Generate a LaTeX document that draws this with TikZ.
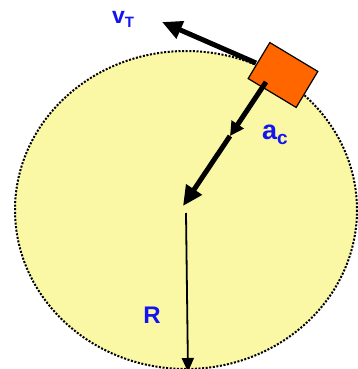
\documentclass[tikz,border=0pt]{standalone}
\usepackage{fontspec}
\setmainfont{Liberation Sans}
\usetikzlibrary{arrows.meta}
\definecolor{discfill}{RGB}{250,248,165}
\definecolor{blockfill}{RGB}{255,102,0}
\definecolor{labelblue}{RGB}{20,20,240}
\tikzset{
  lbl/.style={text=labelblue, font=\bfseries, inner sep=0pt},
  thickarrow/.style={line width=5pt, -{Triangle[length=20pt,width=18pt]}},
  midarrow/.style={line width=5pt, -{Triangle[length=14pt,width=14pt]}},
  thinarrow/.style={line width=1.8pt, -{Triangle[length=14pt,width=12pt]}},
}
\begin{document}
\begin{tikzpicture}[x=1pt,y=-1pt]
\useasboundingbox (0,0) rectangle (358,369);
% disc
\draw[fill=discfill, line width=2pt, dash pattern=on 2pt off 1.6pt] (186,210) ellipse [x radius=171, y radius=159];
% coordinates
\coordinate (vstart) at (256,63);
\coordinate (vtip) at (162,22);
\coordinate (astart) at (266,82);
\coordinate (amid) at (230,136);
\coordinate (O) at (183,206);
\coordinate (Rstart) at (186,213);
\coordinate (Rtip) at (188,372);
% tangential velocity
\draw[thickarrow] (vstart) -- (vtip);
% block
\node[draw, fill=blockfill, line width=1.2pt, minimum width=56pt, minimum height=42pt, rotate=-31, inner sep=0pt] (block) at (283,75) {};
% centripetal acceleration
\draw[midarrow] (astart) -- (amid);
\draw[thickarrow] (amid) -- (O);
% radius
\draw[thinarrow] (Rstart) -- (Rtip);
% labels
\node[lbl, font=\bfseries\fontsize{23}{23}\selectfont] (vT) at (123,19) {v\raisebox{-4pt}{\fontsize{15}{15}\selectfont T}};
\node[lbl, font=\bfseries\fontsize{27}{27}\selectfont] (ac) at (275,135) {a\raisebox{-5pt}{\fontsize{19}{19}\selectfont c}};
\node[lbl, font=\bfseries\fontsize{24}{24}\selectfont] (R) at (152,315) {R};
\end{tikzpicture}
\end{document}
